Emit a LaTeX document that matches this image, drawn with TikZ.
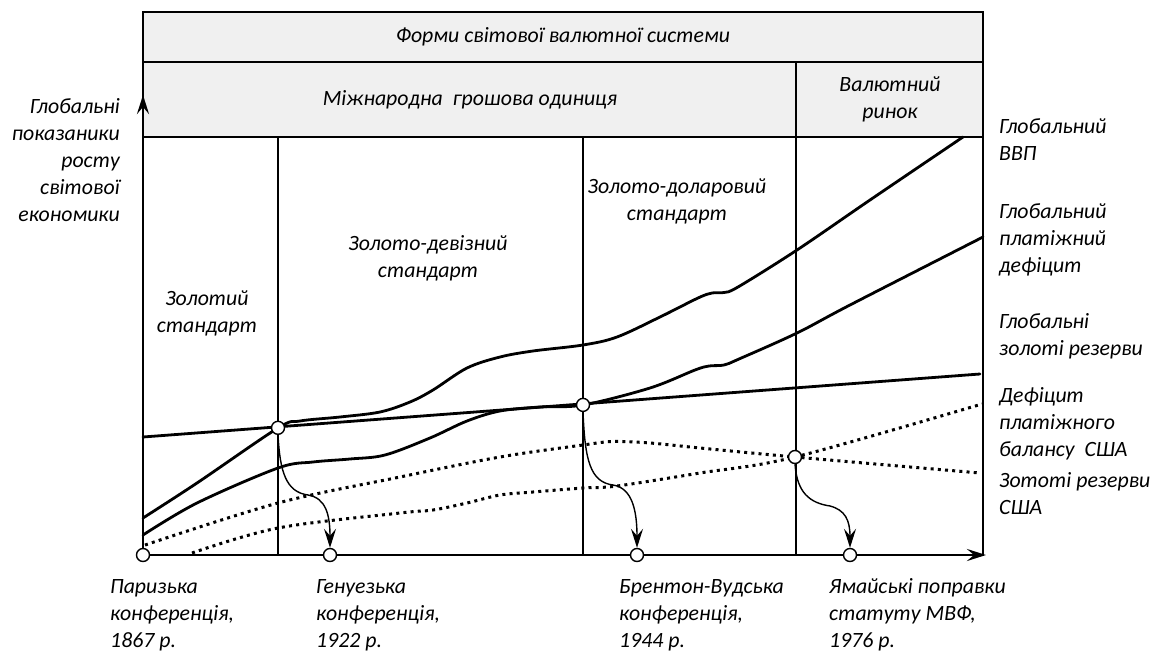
\documentclass[tikz,border=0pt]{standalone}
\usepackage{fontspec}
\setmainfont{Carlito}
\usetikzlibrary{arrows.meta}
\definecolor{hdrfill}{RGB}{240,240,240}
\begin{document}
\begin{tikzpicture}[x=1pt,y=-1pt,
  lbl/.style={font=\fontsize{21.8}{27}\selectfont\itshape, inner sep=0pt},
  curveln/.style={line width=2.8pt, line cap=round, line join=round},
  dotln/.style={line width=3pt, dash pattern=on 3pt off 4.2pt},
  thinln/.style={line width=1.5pt},
  axisln/.style={line width=2.8pt, -{Stealth[length=19pt,width=12pt,inset=7pt]}},
  conn/.style={line width=1.4pt, -{Stealth[length=19pt,width=12pt,inset=7pt]}},
  dotnode/.style={circle, draw, fill=white, line width=1.4pt, minimum size=13pt, inner sep=0pt},
]
\useasboundingbox (0,0) rectangle (1155,652);
% header
\fill[hdrfill] (143,12) rectangle (983,137);
\draw[thinln] (143,12) rectangle (983,555);
\draw[thinln] (143,62) -- (983,62);
\draw[thinln] (143,137) -- (983,137);
\draw[thinln] (796,62) -- (796,555);
\draw[thinln] (278,137) -- (278,555);
\draw[thinln] (583,137) -- (583,555);

% coordinates
\coordinate (o) at (143,555);
\coordinate (ytop) at (143,95);
\coordinate (xend) at (986,555);
\coordinate (q1) at (330,555);
\coordinate (q2) at (637,555);
\coordinate (q3) at (850,555);
\coordinate (r1) at (278,427.8);
\coordinate (r2) at (583,404.9);
\coordinate (r3) at (795,457);

% axes
\draw[axisln] (o) -- (ytop);
\draw[axisln] (o) -- (xend);

% global gold reserves
\draw[curveln] (143,437) -- (980,374);
% global GDP
\draw[curveln] plot[smooth, tension=0.55] coordinates {(143,518) (197,483) (278,428) (300,421) (340,417) (380,412) (410,402) (433,390) (467,368) (500,357) (533,351) (583,345) (617,337) (660,317) (698,298) (712,293) (724,292.5) (738,287) (797,250) (870,200) (963,137)};
% global payment deficit
\draw[curveln] plot[smooth, tension=0.55] coordinates {(143,535) (197,503) (278,468) (313,462) (350,459) (385,455) (430,438) (467,421) (500,411) (540,407) (583,405) (650,388) (695,370) (709,366) (724,365) (739,359) (797,333) (850,305) (983,237)};
% US gold reserves
\draw[dotln] plot[smooth, tension=0.55] coordinates {(145,545) (278,503) (400,477) (500,457) (583,445) (613,441.5) (650,443) (700,448) (795,457) (980,473)};
% US balance deficit
\draw[dotln] plot[smooth, tension=0.55] coordinates {(192,553) (278,528) (400,513) (433,510) (467,503) (500,495) (533,492) (583,488) (617,486) (700,473) (795,457) (982,404)};

% circles
\node[dotnode] (c0) at (o) {};
\node[dotnode] (c1) at (q1) {};
\node[dotnode] (c2) at (q2) {};
\node[dotnode] (c3) at (q3) {};
\node[dotnode] (p1) at (r1) {};
\node[dotnode] (p2) at (r2) {};
\node[dotnode] (p3) at (r3) {};

% connectors
\draw[conn] (p1.south) .. controls (280,472) and (286,492) .. (308,495) .. controls (326,498) and (330,515) .. (c1.north);
\draw[conn] (p2.south) .. controls (585,460) and (590,482) .. (613,485) .. controls (632,488) and (637,510) .. (c2.north);
\draw[conn] (p3.south) .. controls (797,493) and (810,503) .. (830,506) .. controls (845,510) and (850,520) .. (c3.north);

% header texts
\node[lbl] (title) at (563,37) {Форми світової валютної системи};
\node[lbl] (intl) at (470,100) {Міжнародна~ грошова одиниця};
\node[lbl, align=center] (fx) at (890,99) {Валютний\\ринок};

% period texts
\node[lbl, align=center] (gold) at (207,313) {Золотий\\стандарт};
\node[lbl, align=center] (goldx) at (428,258) {Золото-девізний\\стандарт};
\node[lbl, align=center] (goldd) at (677,201) {Золото-доларовий\\стандарт};

% y label
\node[lbl, align=right, anchor=east] (ylab) at (120,160) {Глобальні\\показаники\\росту\\світової\\економики};

% right labels
\node[lbl, align=left, anchor=west] (l1) at (999,140) {Глобальний\\ВВП};
\node[lbl, align=left, anchor=west] (l2) at (999,240) {Глобальний\\платіжний\\дефіцит};
\node[lbl, align=left, anchor=west] (l3) at (999,336) {Глобальні\\золоті резерви};
\node[lbl, align=left, anchor=west] (l4) at (999,424) {Дефіцит\\платіжного\\балансу~ США};
\node[lbl, align=left, anchor=west] (l5) at (999,494) {Зототі резерви\\США};

% bottom labels
\node[lbl, align=left, anchor=west] (b1) at (110,615) {Паризька\\конференція,\\1867 р.};
\node[lbl, align=left, anchor=west] (b2) at (316,615) {Генуезька\\конференція,\\1922 р.};
\node[lbl, align=left, anchor=west] (b3) at (619,615) {Брентон-Вудська\\конференція,\\1944 р.};
\node[lbl, align=left, anchor=west] (b4) at (829,615) {Ямайські поправки\\статуту МВФ,\\1976 р.};
\end{tikzpicture}
\end{document}
